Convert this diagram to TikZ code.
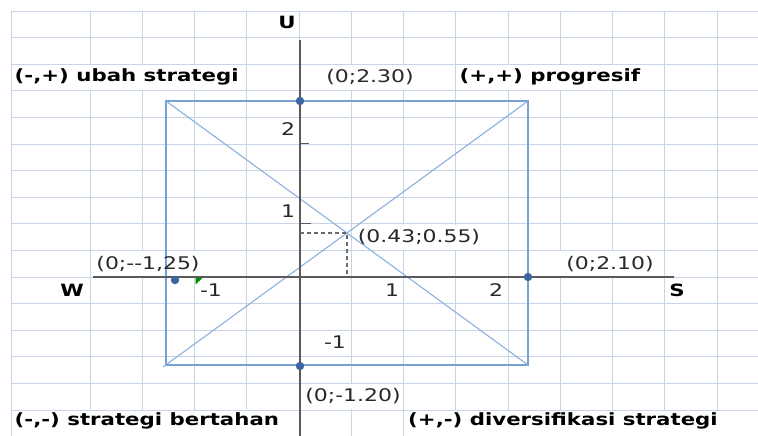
\documentclass[tikz,border=0pt]{standalone}
\usepackage{fontspec}
\newfontfamily\lblfont[FakeStretch=1.26]{DejaVu Sans}
\definecolor{gridc}{RGB}{200,212,232}
\definecolor{rectc}{RGB}{120,160,212}
\definecolor{diagc}{RGB}{140,176,222}
\definecolor{dotc}{RGB}{60,100,160}
\definecolor{axisc}{RGB}{90,90,90}
\definecolor{txtc}{RGB}{40,40,40}
\tikzset{
  gridline/.style={draw=gridc, line width=0.9pt},
  cover/.style={fill=white},
  rectline/.style={draw=rectc, line width=1.6pt},
  diagline/.style={draw=diagc, line width=1.1pt},
  axisline/.style={draw=axisc, line width=1.8pt},
  tickline/.style={draw=axisc, line width=1pt},
  guide/.style={draw=axisc!90, line width=1.2pt, dash pattern=on 4pt off 3pt},
  pt/.style={fill=dotc},
  lbl/.style={inner sep=0pt, text=txtc, font=\lblfont\fontsize{17.4}{19}\selectfont},
  blbl/.style={inner sep=0pt, text=black, font=\lblfont\bfseries\fontsize{16.9}{19}\selectfont},
}
\begin{document}
\begin{tikzpicture}[x=1pt,y=-1pt]
\useasboundingbox (0,0) rectangle (758,436);
\fill[white] (0,0) rectangle (758,436);
% worksheet grid
\foreach \k in {0,...,16} \draw[gridline] (11,{11+26.6*\k}) -- (758,{11+26.6*\k});
\foreach \x in {11,90,142.25,194.5,246.75,299,351.25,403.5,455.75,508,560.25,612.5,664.75,717}
  \draw[gridline] (\x,11) -- (\x,436);
% cells whose text hides the vertical grid lines
\foreach \xa/\xb/\k in {20/240/2, 320/420/2, 480/650/2, 355/485/8, 95/205/9, 560/660/9, 304/402/14, 14/290/15, 408/757/15}
  \fill[cover] (\xa,{11+26.6*\k+0.9}) rectangle (\xb,{11+26.6*(\k+1)-0.9});
% green cell indicator
\fill[green!55!black] (195.5,278) -- (202.5,278) -- (195.5,284.5) -- cycle;
% chart coordinates
\coordinate (TL) at (166,101);
\coordinate (TR) at (528,101);
\coordinate (BR) at (528,365);
\coordinate (BL) at (166,365);
\coordinate (BLx) at (163,367);
\coordinate (P) at (347,233);
\coordinate (Py) at (300,233);
\coordinate (Px) at (347,277);
\coordinate (Utop) at (300,40);
\coordinate (Ubot) at (300,436);
\coordinate (Wend) at (93,277);
\coordinate (Send) at (674,277);
\coordinate (T2) at (300,143);
\coordinate (T2e) at (309,143);
\coordinate (T1) at (300,223);
\coordinate (T1e) at (311,223);
% rectangle and diagonals
\draw[rectline] (TL) rectangle (BR);
\draw[diagline] (TL) -- (BR);
\draw[diagline] (BLx) -- (TR);
% axes
\draw[axisline] (Utop) -- (Ubot);
\draw[axisline] (Wend) -- (Send);
\draw[tickline] (T2) -- (T2e);
\draw[tickline] (T1) -- (T1e);
% guide lines to intersection
\draw[guide] (Py) -- (P) -- (Px);
% points
\fill[pt] (300,101) circle (4.2);
\fill[pt] (175,280) circle (4.2);
\fill[pt] (528,277) circle (4.2);
\fill[pt] (300,366) circle (4.2);
% labels
\node[blbl] (lU) at (287,22) {U};
\node[blbl] (lW) at (72,290) {W};
\node[blbl] (lS) at (677,290) {S};
\node[blbl, anchor=west] (q2) at (14.5,77) {(-,+) ubah strategi};
\node[blbl, anchor=west] (q1) at (459.5,77) {(+,+) progresif};
\node[blbl, anchor=west] (q3) at (14.5,421) {(-,-) strategi bertahan};
\node[blbl, anchor=west] (q4) at (408,421) {(+,-) diversifikasi strategi};
\node[lbl] (pU) at (370,77) {(0;2.30)};
\node[lbl] (pI) at (419,237) {(0.43;0.55)};
\node[lbl] (pW) at (148,264) {(0;-{}-1,25)};
\node[lbl] (pS) at (610,264) {(0;2.10)};
\node[lbl] (pT) at (353,396) {(0;-1.20)};
\node[lbl] (y2) at (288,129) {2};
\node[lbl] (y1) at (288,211) {1};
\node[lbl] (x1) at (392,290) {1};
\node[lbl] (x2) at (496,290) {2};
\node[lbl] (xm1) at (211,290) {-1};
\node[lbl] (ym1) at (335,342) {-1};
\end{tikzpicture}
\end{document}
